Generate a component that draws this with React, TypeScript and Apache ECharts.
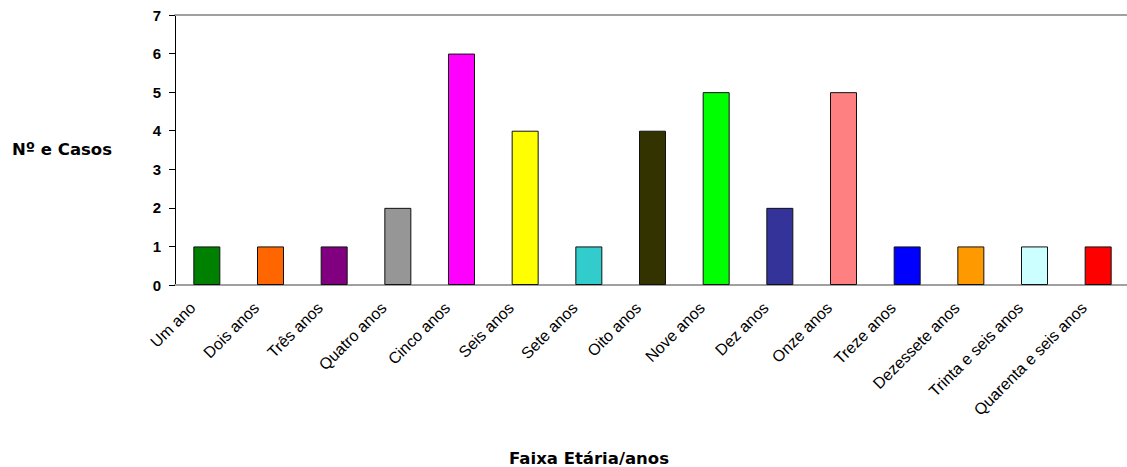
import React, { useEffect, useRef } from "react";
import * as echarts from "echarts";

const categories = [
  "Um ano", "Dois anos", "Três anos", "Quatro anos", "Cinco anos", "Seis anos", "Sete anos",
  "Oito anos", "Nove anos", "Dez anos", "Onze anos", "Treze anos", "Dezessete anos",
  "Trinta e seis anos", "Quarenta e seis anos",
];
const values = [1, 1, 1, 2, 6, 4, 1, 4, 5, 2, 5, 1, 1, 1, 1];
const colors = [
  "#008000", "#FF6600", "#800080", "#969696", "#FF00FF", "#FFFF00", "#33CCCC",
  "#333300", "#00FF00", "#333399", "#FF8080", "#0000FF", "#FF9900", "#CCFFFF", "#FF0000",
];
const yTitle = "Nº e Casos";
const xTitle = "Faixa Etária/anos";

export default function App() {
  const ref = useRef<HTMLDivElement>(null);
  useEffect(() => {
    const chart = echarts.init(ref.current!, null, { renderer: "svg" });
    chart.setOption({
      animation: false,
      textStyle: { fontFamily: "Liberation Sans, Arial, sans-serif" },
      grid: { left: 175, top: 15, right: -3, bottom: 182, containLabel: false, outerBoundsMode: "none" },
      xAxis: [
        {
          type: "category",
          data: categories,
          axisLine: { lineStyle: { color: "#a0a0a0", width: 2 } },
          axisTick: { show: false },
          axisLabel: {
            interval: 0,
            rotate: 45,
            color: "#000",
            fontSize: 16,
            margin: 6,
            padding: [0, 20, 17, 0],
            fontFamily: "Liberation Sans, Arial, sans-serif",
          },
        },
        {
          type: "category",
          position: "top",
          data: categories,
          axisLine: { lineStyle: { color: "#a0a0a0", width: 2 } },
          axisTick: { show: false },
          axisLabel: { show: false },
        },
      ],
      yAxis: {
        type: "value",
        min: 0,
        max: 7,
        interval: 1,
        axisLine: { show: true, lineStyle: { color: "#000", width: 1 } },
        axisTick: { show: true, length: 6, lineStyle: { color: "#000" } },
        splitLine: { show: false },
        axisLabel: { color: "#000", fontWeight: "bold", fontSize: 15, margin: 14 },
      },
      graphic: [
        {
          type: "text",
          left: 12,
          top: 141,
          style: {
            text: yTitle,
            fontFamily: "DejaVu Sans, sans-serif",
            fontWeight: "bold",
            fontSize: 16.5,
            fill: "#000",
          },
        },
        {
          type: "text",
          x: 589,
          y: 458,
          style: {
            text: xTitle,
            align: "center",
            verticalAlign: "middle",
            fontFamily: "DejaVu Sans, sans-serif",
            fontWeight: "bold",
            fontSize: 16.5,
            fill: "#000",
          },
        },
      ],
      series: [
        {
          type: "bar",
          barWidth: 27,
          data: values.map((v, i) => ({
            value: v,
            itemStyle: { color: colors[i], borderColor: "#111", borderWidth: 1 },
          })),
        },
      ],
    });
    return () => chart.dispose();
  }, []);
  return (
    <div
      ref={ref}
      style={{ position: "fixed", left: 0, top: 0, width: 1127, height: 467, background: "#fff" }}
    />
  );
}
